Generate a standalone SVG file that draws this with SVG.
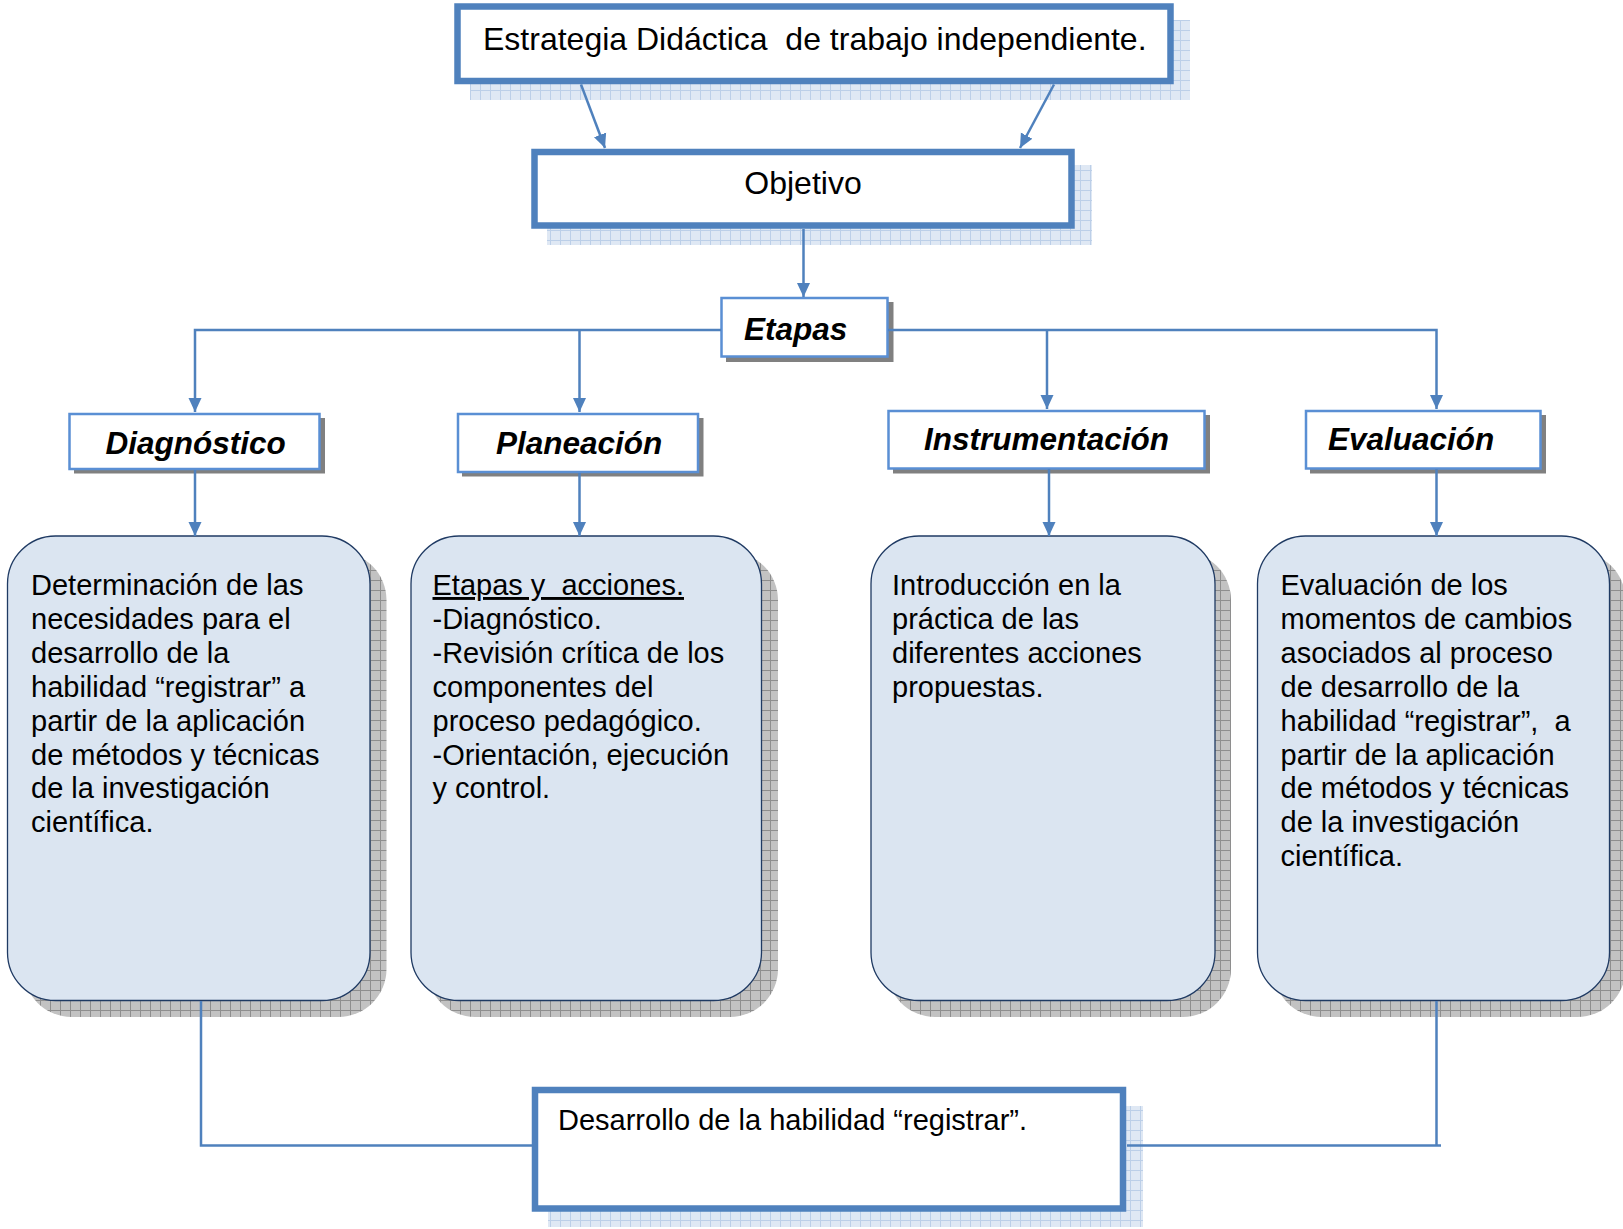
<svg xmlns="http://www.w3.org/2000/svg" width="1623" height="1229" viewBox="0 0 1623 1229">
<style>
.t{font-family:"Liberation Sans",Arial,sans-serif;fill:#000;white-space:pre}
.big{font-size:32px}
.stage{font-size:31.5px;font-weight:bold;font-style:italic}
.body{font-size:29px}
.thick{fill:#fff;stroke:#4f81bd;stroke-width:6.5}
.thin{fill:#fff;stroke:#5a8fd4;stroke-width:2.5}
.gshadow{fill:#808080}
.bshadow{fill:url(#bluegrid)}
.round{fill:#dbe5f1;stroke:#1f3a63;stroke-width:1.3}
.rshadow{fill:url(#graygrid)}
.conn{fill:none;stroke:#4f81bd;stroke-width:2.5}
</style>
<defs>
<pattern id="bluegrid" width="10" height="10" patternUnits="userSpaceOnUse">
<rect width="10" height="10" fill="#dfe8f4"/>
<path d="M0 0.5H10M0.5 0V10" stroke="#bccfe8" stroke-width="1"/>
</pattern>
<pattern id="graygrid" width="10" height="10" patternUnits="userSpaceOnUse">
<rect width="10" height="10" fill="#c2c2c2"/>
<path d="M0 0.5H10M0.5 0V10" stroke="#8e8e8e" stroke-width="1"/>
</pattern>
<marker id="arr" markerUnits="userSpaceOnUse" markerWidth="14" markerHeight="14" viewBox="0 0 14 14" refX="14" refY="7" orient="auto">
<path d="M0 0.5L14 7L0 13.5Z" fill="#4f81bd"/>
</marker>
</defs>

<g id="estrategia">
<rect class="bshadow" x="470" y="20" width="720" height="80"/>
<rect class="thick" x="457.5" y="6.5" width="713" height="74.5"/>
<text class="t big" x="483" y="50">Estrategia Didáctica  de trabajo independiente.</text>
</g>

<g id="objetivo">
<rect class="bshadow" x="547" y="165" width="545" height="80"/>
<rect class="thick" x="534.5" y="152" width="537" height="73.5"/>
<text class="t big" x="803" y="194" text-anchor="middle">Objetivo</text>
</g>

<g id="etapas">
<rect class="gshadow" x="726" y="302" width="167.5" height="60"/>
<rect class="thin" x="721.5" y="298" width="166" height="58.5"/>
<text class="t stage" x="744" y="339.5">Etapas</text>
</g>

<g id="diagnostico">
<rect class="gshadow" x="74" y="418" width="251" height="55.5"/>
<rect class="thin" x="69.5" y="414" width="250" height="55"/>
<text class="t stage" x="105.5" y="454">Diagnóstico</text>
</g>

<g id="planeacion">
<rect class="gshadow" x="462" y="418" width="241.5" height="58.5"/>
<rect class="thin" x="458" y="414" width="240" height="58"/>
<text class="t stage" x="496" y="454">Planeación</text>
</g>

<g id="instrumentacion">
<rect class="gshadow" x="893" y="415" width="317" height="58.5"/>
<rect class="thin" x="888.5" y="411" width="316" height="57.5"/>
<text class="t stage" x="924" y="449.5">Instrumentación</text>
</g>

<g id="evaluacion">
<rect class="gshadow" x="1310" y="415" width="236" height="58.5"/>
<rect class="thin" x="1306" y="411" width="234.5" height="57.5"/>
<text class="t stage" x="1328" y="449.5">Evaluación</text>
</g>

<g id="box-diagnostico">
<rect class="rshadow" x="23.5" y="552" width="363" height="465" rx="48" ry="48"/>
<rect class="round" x="7.5" y="536" width="362.5" height="464.5" rx="48" ry="48"/>
<text class="t body" x="31" y="595">Determinación de las<tspan x="31" dy="33.9">necesidades para el</tspan><tspan x="31" dy="33.9">desarrollo de la</tspan><tspan x="31" dy="33.9">habilidad “registrar” a</tspan><tspan x="31" dy="33.9">partir de la aplicación</tspan><tspan x="31" dy="33.9">de métodos y técnicas</tspan><tspan x="31" dy="33.9">de la investigación</tspan><tspan x="31" dy="33.9">científica.</tspan></text>
</g>

<g id="box-planeacion">
<rect class="rshadow" x="427" y="552" width="351" height="465" rx="48" ry="48"/>
<rect class="round" x="411" y="536" width="350.5" height="464.5" rx="48" ry="48"/>
<text class="t body" x="432.5" y="595"><tspan text-decoration="underline">Etapas y  acciones.</tspan><tspan x="432.5" dy="33.9">-Diagnóstico.</tspan><tspan x="432.5" dy="33.9">-Revisión crítica de los</tspan><tspan x="432.5" dy="33.9">componentes del</tspan><tspan x="432.5" dy="33.9">proceso pedagógico.</tspan><tspan x="432.5" dy="33.9">-Orientación, ejecución</tspan><tspan x="432.5" dy="33.9">y control.</tspan></text>
</g>

<g id="box-instrumentacion">
<rect class="rshadow" x="887" y="552" width="344" height="465" rx="48" ry="48"/>
<rect class="round" x="871" y="536" width="344" height="464.5" rx="48" ry="48"/>
<text class="t body" x="892" y="595">Introducción en la<tspan x="892" dy="33.9">práctica de las</tspan><tspan x="892" dy="33.9">diferentes acciones</tspan><tspan x="892" dy="33.9">propuestas.</tspan></text>
</g>

<g id="box-evaluacion">
<rect class="rshadow" x="1273.5" y="552" width="352" height="465" rx="48" ry="48"/>
<rect class="round" x="1257.5" y="536" width="352" height="464.5" rx="48" ry="48"/>
<text class="t body" x="1280.5" y="595">Evaluación de los<tspan x="1280.5" dy="33.9">momentos de cambios</tspan><tspan x="1280.5" dy="33.9">asociados al proceso</tspan><tspan x="1280.5" dy="33.9">de desarrollo de la</tspan><tspan x="1280.5" dy="33.9">habilidad “registrar”,  a</tspan><tspan x="1280.5" dy="33.9">partir de la aplicación</tspan><tspan x="1280.5" dy="33.9">de métodos y técnicas</tspan><tspan x="1280.5" dy="33.9">de la investigación</tspan><tspan x="1280.5" dy="33.9">científica.</tspan></text>
</g>

<g id="desarrollo">
<rect class="bshadow" x="548" y="1106" width="595" height="121"/>
<rect class="thick" x="535" y="1090" width="588" height="118.5"/>
<text class="t body" x="558" y="1130">Desarrollo de la habilidad “registrar”.</text>
</g>

<g id="connectors">
<line class="conn" x1="581" y1="84.5" x2="605" y2="148" marker-end="url(#arr)"/>
<line class="conn" x1="1054" y1="84.5" x2="1020" y2="148" marker-end="url(#arr)"/>
<line class="conn" x1="803.5" y1="229" x2="803.5" y2="297" marker-end="url(#arr)"/>
<polyline class="conn" points="721,330 195,330 195,412" marker-end="url(#arr)"/>
<line class="conn" x1="579.5" y1="330" x2="579.5" y2="412" marker-end="url(#arr)"/>
<polyline class="conn" points="888,330 1436.5,330 1436.5,409" marker-end="url(#arr)"/>
<line class="conn" x1="1047" y1="330" x2="1047" y2="409" marker-end="url(#arr)"/>
<line class="conn" x1="195" y1="470" x2="195" y2="536" marker-end="url(#arr)"/>
<line class="conn" x1="579.5" y1="473" x2="579.5" y2="536" marker-end="url(#arr)"/>
<line class="conn" x1="1049" y1="469" x2="1049" y2="536" marker-end="url(#arr)"/>
<line class="conn" x1="1436.5" y1="469" x2="1436.5" y2="536" marker-end="url(#arr)"/>
<polyline class="conn" points="201,1001 201,1145.5 532,1145.5"/>
<polyline class="conn" points="1127,1145.5 1441,1145.5"/>
<line class="conn" x1="1436.5" y1="1001" x2="1436.5" y2="1145.5"/>
</g>
</svg>
